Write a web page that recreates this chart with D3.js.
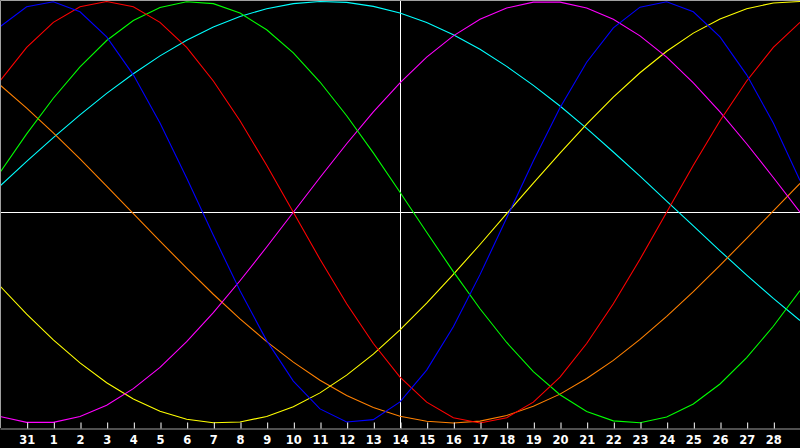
<!DOCTYPE html>
<html>
<head>
<meta charset="utf-8">
<script src="https://cdn.jsdelivr.net/npm/d3@7"></script>
<style>
  html, body { margin: 0; padding: 0; background: #000; }
  svg { display: block; }
</style>
</head>
<body>
<div id="chart"></div>
<script>
// day labels along the bottom (index 0 = 31st of previous month)
var dayLabels = ["31", "1", "2", "3", "4", "5", "6", "7", "8", "9", "10", "11", "12", "13", "14",
    "15", "16", "17", "18", "19", "20", "21", "22", "23", "24", "25", "26", "27", "28"];

// each series starts one day before the first label (index -1) and runs to index 29
var physical = [0.880, 0.975, 0.999, 0.951, 0.832, 0.652, 0.423, 0.163, -0.109, -0.373, -0.609, -0.801,
    -0.933, -0.995, -0.984, -0.900, -0.749, -0.543, -0.296, -0.027, 0.243, 0.496, 0.712, 0.875, 0.973,
    0.999, 0.951, 0.832, 0.652, 0.423, 0.150];
var emotional = [0.623, 0.782, 0.901, 0.975, 1.000, 0.975, 0.901, 0.782, 0.623, 0.434, 0.223, 0, -0.223,
    -0.434, -0.623, -0.782, -0.901, -0.975, -1.000, -0.975, -0.901, -0.782, -0.623, -0.434, -0.223, 0,
    0.223, 0.434, 0.623, 0.782, 0.901];
var intellectual = [0.189, 0.372, 0.541, 0.690, 0.815, 0.910, 0.972, 0.999, 0.990, 0.945, 0.866, 0.756,
    0.618, 0.458, 0.282, 0.095, -0.095, -0.282, -0.458, -0.618, -0.756, -0.866, -0.945, -0.990, -0.999,
    -0.972, -0.910, -0.815, -0.690, -0.541, -0.372];
var intuitive = [-0.969, -0.997, -0.997, -0.969, -0.916, -0.837, -0.736, -0.614, -0.476, -0.325, -0.165,
    0, 0.165, 0.325, 0.476, 0.614, 0.736, 0.837, 0.916, 0.969, 0.997, 0.997, 0.969, 0.916, 0.837, 0.736,
    0.614, 0.476, 0.325, 0.165, 0];
var aesthetic = [-0.350, -0.483, -0.606, -0.715, -0.809, -0.886, -0.944, -0.982, -0.999, -0.995, -0.969,
    -0.923, -0.857, -0.773, -0.673, -0.558, -0.431, -0.295, -0.153, -0.007, 0.138, 0.281, 0.418, 0.546,
    0.662, 0.764, 0.850, 0.917, 0.966, 0.993, 1.000];
var awareness = [0.604, 0.494, 0.377, 0.253, 0.124, -0.006, -0.137, -0.265, -0.389, -0.506, -0.614,
    -0.711, -0.797, -0.869, -0.926, -0.968, -0.992, -1.000, -0.991, -0.964, -0.921, -0.863, -0.789,
    -0.703, -0.603, -0.494, -0.377, -0.252, -0.124, 0.007, 0.137];
var spiritual = [0.124, 0.241, 0.354, 0.462, 0.564, 0.657, 0.742, 0.816, 0.879, 0.929, 0.966, 0.990,
    1.000, 0.996, 0.977, 0.945, 0.900, 0.842, 0.773, 0.692, 0.602, 0.504, 0.398, 0.286, 0.171, 0.053,
    -0.065, -0.183, -0.298, -0.409, -0.514];

var seriesNames = ["spiritual", "awareness", "aesthetic", "intuitive", "intellectual", "emotional", "physical"];
var seriesValues = [spiritual, awareness, aesthetic, intuitive, intellectual, emotional, physical];
var seriesColors = ["#00ffff", "#ff8000", "#ffff00", "#ff00ff", "#00ff00", "#ff0000", "#0000ff"];

var width = 800, height = 448, axisY = 428;

var svg = d3.select("#chart")
    .append("svg")
    .attr("width", width)
    .attr("height", height);

svg.append("rect")
    .attr("width", width)
    .attr("height", height)
    .attr("fill", "#000");

// x: index -1 .. 29 over the full width
var x = d3.scaleLinear()
    .domain([-1, 29])
    .range([0, width]);

var y = d3.scaleLinear()
    .domain([-1, 1])
    .range([423, 1.5]);

// centre lines
svg.append("line")
    .attr("x1", 0).attr("x2", width)
    .attr("y1", Math.round(y(0)) + 0.5).attr("y2", Math.round(y(0)) + 0.5)
    .attr("stroke", "#fff");
svg.append("line")
    .attr("x1", Math.round(x(14)) + 0.5).attr("x2", Math.round(x(14)) + 0.5)
    .attr("y1", 0).attr("y2", axisY)
    .attr("stroke", "#fff");

// curves
var line = d3.line()
    .x(function (d, i) { return x(i - 1); })
    .y(function (d) { return y(d); });

svg.append("g")
    .selectAll("path")
    .data(seriesValues)
    .enter()
    .append("path")
    .attr("class", function (d, i) { return "cycle " + seriesNames[i]; })
    .attr("d", line)
    .attr("fill", "none")
    .attr("stroke", function (d, i) { return seriesColors[i]; })
    .attr("stroke-width", 1.1);

// frame: top and left edges plus axis baseline
svg.append("path")
    .attr("d", "M0.5," + axisY + "V0.5H" + width)
    .attr("fill", "none")
    .attr("stroke", "#a0a0a0");

// bottom axis
var xAxis = d3.axisBottom(x)
    .tickValues(d3.range(0, dayLabels.length))
    .tickFormat(function (d) { return dayLabels[d]; })
    .tickSizeInner(-6)
    .tickSizeOuter(0)
    .tickPadding(5);

var gx = svg.append("g")
    .attr("transform", "translate(0," + (axisY + 0.5) + ")")
    .call(xAxis);

gx.select(".domain")
    .attr("stroke", "#a0a0a0");
gx.selectAll(".tick line")
    .attr("stroke", "#fff")
    .attr("transform", "translate(0.5,0)");
gx.selectAll(".tick text")
    .attr("fill", "#fff")
    .attr("y", 7)
    .attr("dy", "0.71em")
    .style("font-family", "'DejaVu Sans', sans-serif")
    .style("font-weight", "bold")
    .style("font-size", "11.5px");
</script>
</body>
</html>
